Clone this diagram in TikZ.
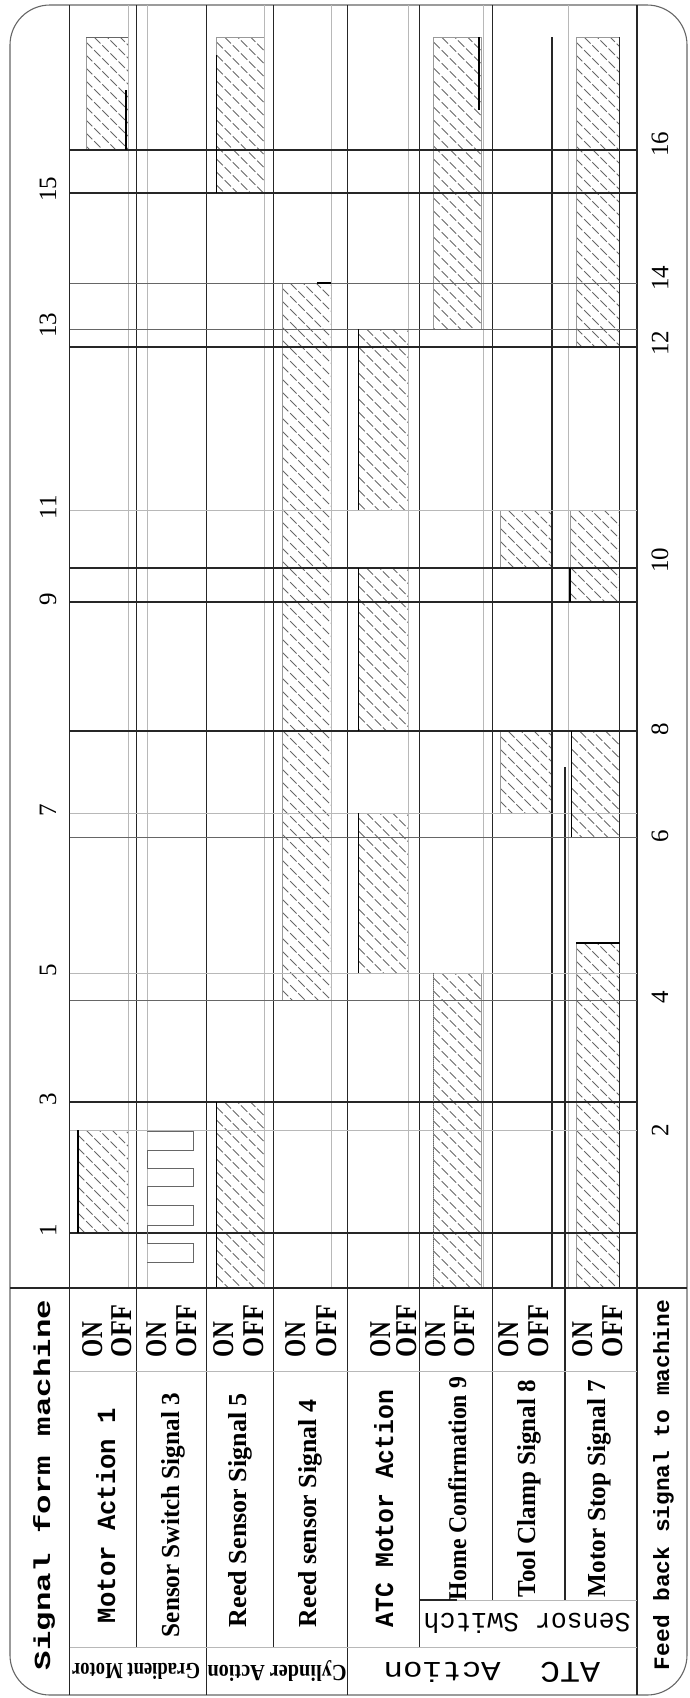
\documentclass[tikz,border=0pt]{standalone}
\usepackage{fontspec}
\usepackage{graphicx}
\setmainfont{Liberation Serif}
\newfontfamily\monof{Liberation Mono}
\tikzset{
  dk/.style={draw=black!85, line width=1.2pt},
  md/.style={draw=black!60, line width=1pt},
  lt/.style={draw=black!28, line width=0.9pt},
  hl/.style={draw=black!60, line width=0.9pt, dash pattern=on 9pt off 2.5pt},
  hedge/.style={draw=black!40, line width=0.6pt},
  sig/.style={draw=black, line width=1.3pt},
  txt/.style={inner sep=0pt, outer sep=0pt},
  vt/.style={txt, rotate=90, anchor=base west},
  num/.style={txt, rotate=90, font=\fontsize{25}{25}\selectfont},
  up/.style={txt, rotate=180, anchor=center},
}
\newcommand\hatchrect[4]{%
  \begin{scope}
    \clip (#1,#2) rectangle (#3,#4);
    \pgfmathsetmacro\hsa{#2-60}%
    \pgfmathsetmacro\hsb{#2-60+13}%
    \pgfmathsetmacro\hse{#4}%
    \foreach \yy in {\hsa,\hsb,...,\hse} {\draw[hl] (#1,\yy) -- ++(60,60);}
  \end{scope}
  \draw[hedge] (#1,#2) rectangle (#3,#4);
}
\begin{document}
\begin{tikzpicture}[x=1pt,y=-1pt]
\useasboundingbox (0,0) rectangle (690,1698);
% outer border
\draw[md, line width=1.1pt, rounded corners=40pt] (10,5) rectangle (687,1695);
% hatched signal areas
% row 1
\hatchrect{78}{1130}{128}{1233}
\hatchrect{86}{37}{128}{150}
% row 3
\hatchrect{216.5}{1102}{264}{1288}
\hatchrect{216.5}{37}{264}{193}
% row 4
\hatchrect{282}{283}{331}{1000}
% row 5
\hatchrect{358.5}{329}{408.5}{510}
\hatchrect{358.5}{568}{408.5}{731}
\hatchrect{358.5}{813}{408.5}{973}
% row 6
\hatchrect{433.5}{37}{481}{329}
\hatchrect{433.5}{973}{481}{1288}
% row 7
\hatchrect{500}{510}{552}{568}
\hatchrect{500}{731}{552}{813}
% row 8
\hatchrect{576}{37}{619.5}{347}
\hatchrect{570}{510}{619.5}{602}
\hatchrect{571.5}{731}{619.5}{837}
\hatchrect{576}{943}{619.5}{1288}
% gray row lines
\foreach \xx in {128,147,264,331,408.5,483,568} {\draw[lt] (\xx,5) -- (\xx,1288);}
% dark frame / row lines
\draw[dk] (69.5,5) -- (69.5,1695);
\draw[dk] (637,5) -- (637,1695);
\draw[dk] (136.5,5) -- (136.5,1647);
\draw[dk] (206.5,5) -- (206.5,1695);
\draw[dk] (273.5,5) -- (273.5,1647);
\draw[dk] (347.5,5) -- (347.5,1695);
\draw[dk] (419.5,5) -- (419.5,1647);
\draw[dk] (492.5,5) -- (492.5,1600);
\draw[dk] (552,37) -- (552,1288);
\draw[dk] (619.5,37) -- (619.5,1288);
\draw[dk] (565,767) -- (565,1600);
% time lines
\foreach \yy in {150,193,347,568,602,1102,1233} {\draw[dk] (69.5,\yy) -- (637,\yy);}
\draw[dk, line width=1.8pt] (69.5,731) -- (637,731);
\foreach \yy in {283,329,837,1000} {\draw[md] (69.5,\yy) -- (637,\yy);}
\foreach \yy in {510,813,973,1130} {\draw[lt] (69.5,\yy) -- (637,\yy);}
% signal edges
\draw[sig] (78,1130) -- (78,1233);
\draw[sig] (126,90) -- (126,150);
\draw[md] (86,37) -- (128,37);
\draw[sig] (216.5,1102) -- (216.5,1288);
\draw[sig] (216.5,55) -- (216.5,193);
\draw[sig] (317,283) -- (331,283);
\draw[sig] (358.5,329) -- (358.5,510);
\draw[sig] (358.5,568) -- (358.5,731);
\draw[sig] (358.5,813) -- (358.5,973);
\draw[sig] (479,37) -- (479,110);
\draw[md, densely dotted] (433.5,973) -- (433.5,1288);
\draw[sig] (570,568) -- (570,602);
\draw[sig] (571.5,731) -- (571.5,837);
\draw[sig] (576,943) -- (619.5,943);
% row 2 pulse train
\draw[md] (147,1131.7) -- (193,1131.7) -- (193,1150) -- (147,1150)
  -- (147,1168.3) -- (193,1168.3) -- (193,1186.7) -- (147,1186.7)
  -- (147,1205) -- (193,1205) -- (193,1225) -- (147,1225)
  -- (147,1243.3) -- (193,1243.3) -- (193,1262.7) -- (147,1262.7);
% header area lines
\draw[dk] (10,1288) -- (687,1288);
\draw[lt] (69.5,1371.5) -- (637,1371.5);
\draw[lt] (69.5,1647) -- (637,1647);
\draw[lt] (419.5,1600) -- (637,1600);
\draw[dk] (419.5,1600) -- (457,1600);
% time numbers
\foreach \n/\yy in {1/1230,3/1099,5/970,7/810,9/599,11/507,13/325,15/189}
  {\node[num] (t\n) at (48,\yy) {\n};}
\foreach \n/\yy in {2/1130,4/997,6/836,8/729,10/560,12/343,14/278,16/144}
  {\node[num] (t\n) at (660,\yy) {\n};}
% titles
\node[vt] (title) at (50,1670) {\resizebox{370pt}{17pt}{\monof\bfseries Signal form machine}};
\node[vt] (feed) at (669,1670) {\resizebox{370pt}{16pt}{\monof\bfseries Feed back signal to machine}};
% signal names
\node[vt] (n1) at (115,1623) {\resizebox{215pt}{19pt}{\monof\bfseries Motor Action 1}};
\node[vt] (n2) at (179,1637) {\resizebox{244pt}{18pt}{\bfseries Sensor Switch Signal 3}};
\node[vt] (n3) at (246,1627) {\resizebox{234pt}{18pt}{\bfseries Reed Sensor Signal 5}};
\node[vt] (n4) at (316,1627) {\resizebox{227pt}{18pt}{\bfseries Reed sensor Signal 4}};
\node[vt] (n5) at (393,1627) {\resizebox{237pt}{19pt}{\monof\bfseries ATC Motor Action}};
\node[vt] (n6) at (466,1600) {\resizebox{223pt}{18pt}{\bfseries Home Confirmation 9}};
\node[vt] (n7) at (535,1597) {\resizebox{217pt}{18pt}{\bfseries Tool Clamp Signal 8}};
\node[vt] (n8) at (605,1597) {\resizebox{217pt}{18pt}{\bfseries Motor Stop Signal 7}};
% ON / OFF
\foreach \r/\a/\b in {1/102/131,2/166/196,3/233/263,4/305/336,5/390/416,6/445/474,7/518/548,8/592/622}{
  \node[vt] (on\r) at (\a,1357) {\resizebox{35pt}{20pt}{\bfseries ON}};
  \node[vt] (off\r) at (\b,1357) {\resizebox{52pt}{20pt}{\bfseries OFF}};
}
% category labels
\node[up] (gm) at (136,1671) {\resizebox{128pt}{16pt}{\bfseries Gradient Motor}};
\node[up] (ca) at (277,1671) {\resizebox{139pt}{16pt}{\bfseries Cylinder Action}};
\node[up] (ac) at (442,1672) {\resizebox{117pt}{20pt}{\monof Action}};
\node[up] (atc) at (570,1672) {\resizebox{60pt}{20pt}{\monof ATC}};
\node[up] (ss) at (527,1623) {\resizebox{207pt}{20pt}{\monof Sensor Switch}};
\end{tikzpicture}
\end{document}
